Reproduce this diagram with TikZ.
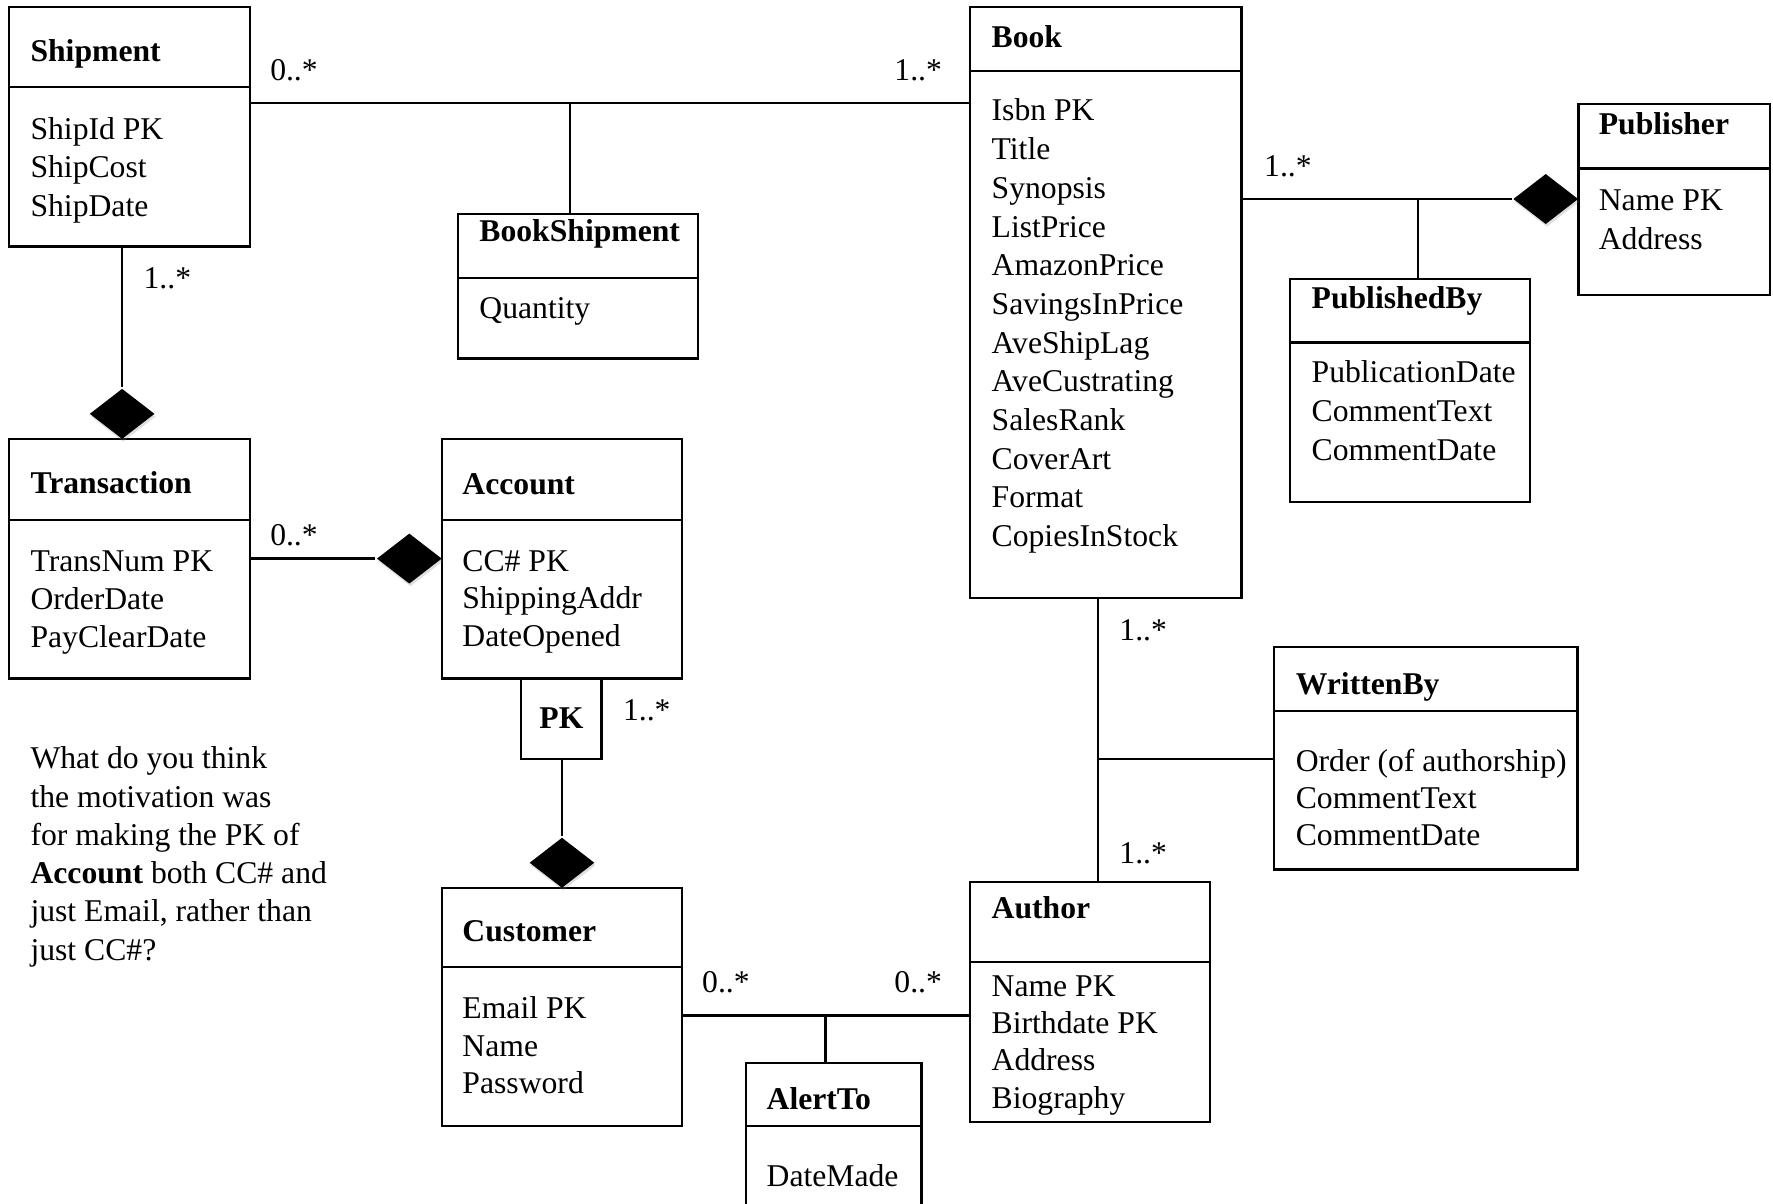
\documentclass[tikz,border=0pt]{standalone}
\usepackage{fontspec}
\setmainfont{Liberation Serif}
\usetikzlibrary{shapes.geometric,fit,shadows}
\newcommand\attrlist[5]{%
  \foreach \t [count=\i from 0] in {#5} \node[txt] (#1\i) at (#2,{#3+\i*#4}) {\t};}
\begin{document}
\begin{tikzpicture}[x=0.5pt,y=-0.5pt,line width=1pt,
  box/.style={draw,inner sep=0pt,line width=1pt},
  txt/.style={anchor=base west,inner sep=0pt,font=\fontsize{14}{17}\selectfont},
  ttl/.style={txt,font=\fontsize{14}{17}\selectfont\bfseries},
  mult/.style={txt},
  agg/.style={diamond,fill=black,inner sep=0pt,minimum width=29pt,minimum height=22.5pt,
    drop shadow={opacity=0.25,shadow xshift=0.5pt,shadow yshift=-1.2pt}}]
\useasboundingbox (0,0) rectangle (1568,1064);

% Shipment
\node[box,fit={(8,6)(221,218)}] (ship) {};
\draw (8,77) -- (221,77);
\node[ttl] (shipt) at (26,54) {Shipment};
\attrlist{shipa}{26}{123}{34.2}{ShipId PK, ShipCost, ShipDate}

% BookShipment
\node[box,fit={(405,189)(617,317)}] (bship) {};
\draw (405,246) -- (617,246);
\node[ttl] (bshipt) at (423,214) {BookShipment};
\attrlist{bshipa}{423}{282}{34.2}{Quantity}

% Book
\node[box,fit={(858,6)(1098,529)}] (book) {};
\draw (858,63) -- (1098,63);
\node[ttl] (bookt) at (876,42) {Book};
\attrlist{booka}{876}{107}{34.2}{Isbn PK, Title, Synopsis, ListPrice, AmazonPrice, SavingsInPrice, AveShipLag, AveCustrating, SalesRank, CoverArt, Format, CopiesInStock}

% Publisher
\node[box,fit={(1396,92)(1565,261)}] (pub) {};
\draw (1396,149) -- (1565,149);
\node[ttl] (pubt) at (1413,119) {Publisher};
\attrlist{puba}{1413}{186}{35}{Name PK, Address}

% PublishedBy
\node[box,fit={(1141,247)(1353,444)}] (pubby) {};
\draw (1141,303) -- (1353,303);
\node[ttl] (pubbyt) at (1159,273) {PublishedBy};
\attrlist{pubbya}{1159}{338}{34.5}{PublicationDate, CommentText, CommentDate}

% Transaction
\node[box,fit={(8,388)(221,600)}] (trans) {};
\draw (8,460) -- (221,460);
\node[ttl] (transt) at (26,436) {Transaction};
\attrlist{transa}{26}{505}{34}{TransNum PK, OrderDate, PayClearDate}

% Account
\node[box,fit={(391,388)(603,600)}] (acc) {};
\draw (391,460) -- (603,460);
\node[ttl] (acct) at (408,437) {Account};
\attrlist{acca}{408}{505}{33.5}{CC\# PK, ShippingAddr, DateOpened}

% PK qualifier
\node[box,fit={(461,600)(532,671)}] (pk) {};
\node[inner sep=0pt,font=\fontsize{14}{17}\selectfont\bfseries] (pkt) at (pk.center) {PK};

% Customer
\node[box,fit={(391,785)(603,996)}] (cust) {};
\draw (391,855) -- (603,855);
\node[ttl] (custt) at (408,833) {Customer};
\attrlist{custa}{408}{901}{33}{Email PK, Name, Password}

% AlertTo
\node[box,fit={(660,940)(815,1090)}] (alert) {};
\draw (660,996) -- (815,996);
\node[ttl] (alertt) at (677,981) {AlertTo};
\attrlist{alerta}{677}{1049}{33}{DateMade}

% Author
\node[box,fit={(858,780)(1070,992)}] (auth) {};
\draw (858,851) -- (1070,851);
\node[ttl] (autht) at (876,812) {Author};
\attrlist{autha}{876}{881}{33}{Name PK, Birthdate PK, Address, Biography}

% WrittenBy
\node[box,fit={(1127,572)(1395,769)}] (wby) {};
\draw (1127,629) -- (1395,629);
\node[ttl] (wbyt) at (1145,614) {WrittenBy};
\attrlist{wbya}{1145}{682}{33}{Order (of authorship), CommentText, CommentDate}

% Question text
\attrlist{q}{26}{680}{33.8}{What do you think, the motivation was, for making the PK of, {\textbf{Account} both CC\# and}, {just Email, rather than}, just CC\#?}

% Aggregation diamonds
\node[agg] (d1) at (1367,176) {};
\node[agg] (d2) at (108,366) {};
\node[agg] (d3) at (362,494) {};
\node[agg] (d4) at (497,763) {};

% Connectors
\coordinate (sb) at (504,91);
\draw (ship.east |- sb) -- (book.west |- sb);
\draw (sb) -- (bship.north -| sb);

\coordinate (pb) at (1254,176);
\draw (book.east |- pb) -- (d1.west);
\draw (pb) -- (pubby.north -| pb);

\draw (d2 |- ship.south) -- (d2.north);
\draw (trans.east |- d3) -- (d3.west);
\draw (d4 |- pk.south) -- (d4.north);

\coordinate (ca) at (730,898);
\draw (cust.east |- ca) -- (auth.west |- ca);
\draw (ca) -- (alert.north -| ca);

\coordinate (bw) at (971,671);
\draw (book.south -| bw) -- (auth.north -| bw);
\draw (bw) -- (wby.west |- bw);

% Multiplicities
\node[mult] (m1) at (238,71) {0..*};
\node[mult] (m2) at (790,71) {1..*};
\node[mult] (m3) at (1117,156) {1..*};
\node[mult] (m4) at (126,255) {1..*};
\node[mult] (m5) at (238,482) {0..*};
\node[mult] (m6) at (550,637) {1..*};
\node[mult] (m7) at (620,878) {0..*};
\node[mult] (m8) at (790,878) {0..*};
\node[mult] (m9) at (989,566) {1..*};
\node[mult] (m10) at (989,764) {1..*};
\end{tikzpicture}
\end{document}
